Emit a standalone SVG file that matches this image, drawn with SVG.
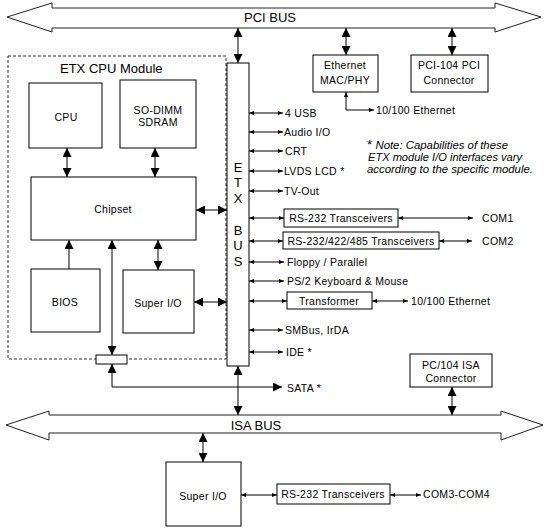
<svg xmlns="http://www.w3.org/2000/svg" width="550" height="531" viewBox="0 0 550 531">
<style>
text{font-family:"Liberation Sans",Arial,sans-serif;fill:#000}
.t{font-size:10.5px;letter-spacing:0.3px}
.c{text-anchor:middle}
.big{font-size:13px}
.note{font-size:10px;font-style:italic}
.box{fill:#fff;stroke:#000;stroke-width:1}
.bus{fill:#fff;stroke:#222;stroke-width:1}
.ln{fill:none;stroke:#000;stroke-width:1}
.d{marker-start:url(#ah);marker-end:url(#ah)}
.s{marker-end:url(#ah)}
.ds{marker-start:url(#sh);marker-end:url(#sh)}
.ss{marker-end:url(#sh)}
</style>
<defs>
<marker id="ah" viewBox="0 0 9 9" markerWidth="9" markerHeight="9" refX="9" refY="4.5" orient="auto-start-reverse" markerUnits="userSpaceOnUse"><path d="M0,0 L9,4.5 L0,9 z" fill="#000"/></marker>
<marker id="sh" viewBox="0 0 5 4" markerWidth="5" markerHeight="4" refX="5" refY="2" orient="auto-start-reverse" markerUnits="userSpaceOnUse"><path d="M0,0 L5,2 L0,4 z" fill="#000"/></marker>
</defs>

<g id="pci-bus">
<polygon class="bus" points="7,17 52,3 52,8 495,8 495,3 541,17 495,32 495,28 52,28 52,32"/>
<text class="big c" x="270" y="22">PCI BUS</text>
</g>
<g id="isa-bus">
<polygon class="bus" points="6,425 49,411 49,415 501,415 501,411 543,425 501,440 501,433 49,433 49,440"/>
<text class="big c" x="256" y="430">ISA BUS</text>
</g>

<g id="etx-module">
<rect x="8" y="56" width="218" height="303" fill="none" stroke="#333" stroke-width="1" stroke-dasharray="3,2"/>
<text class="big" x="60" y="73">ETX CPU Module</text>
</g>

<g id="etx-bus">
<rect class="box" x="227" y="63" width="22" height="303"/>
<text class="big c" x="238" y="172">E</text>
<text class="big c" x="238" y="187">T</text>
<text class="big c" x="238" y="203">X</text>
<text class="big c" x="238" y="235">B</text>
<text class="big c" x="238" y="250">U</text>
<text class="big c" x="238" y="266">S</text>
</g>

<g id="cpu"><rect class="box" x="29" y="83" width="73" height="65"/><text class="t c" x="66" y="121">CPU</text></g>
<g id="sodimm"><rect class="box" x="120" y="80" width="76" height="68"/><text class="t c" x="158" y="114">SO-DIMM</text><text class="t c" x="158" y="126">SDRAM</text></g>
<g id="chipset"><rect class="box" x="31" y="177" width="165" height="63"/><text class="t c" x="113" y="213">Chipset</text></g>
<g id="bios"><rect class="box" x="31" y="269" width="69" height="63"/><text class="t c" x="65" y="306">BIOS</text></g>
<g id="superio"><rect class="box" x="123" y="270" width="71" height="63"/><text class="t c" x="158" y="307">Super I/O</text></g>
<g id="mux"><rect class="box" x="96" y="355" width="31" height="9"/></g>

<g id="ethernet-mac"><rect class="box" x="313" y="55" width="65" height="37"/><text class="t c" x="345" y="69">Ethernet</text><text class="t c" x="345" y="84">MAC/PHY</text></g>
<g id="pci104"><rect class="box" x="411" y="55" width="77" height="37"/><text class="t c" x="449" y="69">PCI-104 PCI</text><text class="t c" x="449" y="84">Connector</text></g>
<g id="pc104-isa"><rect class="box" x="410" y="354" width="82" height="33"/><text class="t c" x="451" y="369">PC/104 ISA</text><text class="t c" x="451" y="382">Connector</text></g>

<g id="rs232-1"><rect class="box" x="284" y="209" width="114" height="18"/><text class="t c" x="341" y="222">RS-232 Transceivers</text></g>
<g id="rs232-2"><rect class="box" x="283" y="232" width="156" height="17"/><text class="t c" x="361" y="245">RS-232/422/485 Transceivers</text></g>
<g id="transformer"><rect class="box" x="287" y="292" width="85" height="17"/><text class="t c" x="329" y="305">Transformer</text></g>

<g id="superio-isa"><rect class="box" x="166" y="462" width="75" height="64"/><text class="t c" x="203" y="500">Super I/O</text></g>
<g id="rs232-3"><rect class="box" x="277" y="484" width="113" height="20"/><text class="t c" x="333" y="498">RS-232 Transceivers</text></g>

<g id="labels">
<text class="t" x="285" y="117">4 USB</text>
<text class="t" x="284" y="136">Audio I/O</text>
<text class="t" x="285" y="155">CRT</text>
<text class="t" x="284" y="175">LVDS LCD *</text>
<text class="t" x="284" y="195">TV-Out</text>
<text class="t" x="482" y="222">COM1</text>
<text class="t" x="482" y="245">COM2</text>
<text class="t" x="287" y="266">Floppy / Parallel</text>
<text class="t" x="287" y="285">PS/2 Keyboard &amp; Mouse</text>
<text class="t" x="411" y="305">10/100 Ethernet</text>
<text class="t" x="285" y="334">SMBus, IrDA</text>
<text class="t" x="286" y="356">IDE *</text>
<text class="t" x="287" y="392">SATA *</text>
<text class="t" x="376" y="114">10/100 Ethernet</text>
<text class="t" x="423" y="498">COM3-COM4</text>
<text class="note" x="367" y="149" textLength="141" lengthAdjust="spacingAndGlyphs"><tspan font-size="12" font-style="normal">*</tspan> Note:  Capabilities of these</text>
<text class="note" x="368" y="161" textLength="154" lengthAdjust="spacingAndGlyphs">ETX module I/O interfaces vary</text>
<text class="note" x="367" y="173" textLength="166" lengthAdjust="spacingAndGlyphs">according to the specific module.</text>
</g>

<g id="connectors">
<line class="ln d" x1="238" y1="28" x2="238" y2="63"/>
<line class="ln d" x1="346" y1="28" x2="346" y2="55"/>
<line class="ln d" x1="452" y1="28" x2="452" y2="55"/>
<polyline class="ln ds" points="346,92 346,110 374,110"/>
<line class="ln d" x1="67" y1="148" x2="67" y2="177"/>
<line class="ln d" x1="155" y1="148" x2="155" y2="177"/>
<line class="ln d" x1="196" y1="210" x2="227" y2="210"/>
<line class="ln s" x1="69" y1="269" x2="69" y2="240"/>
<line class="ln d" x1="112" y1="240" x2="112" y2="355"/>
<line class="ln d" x1="158" y1="240" x2="158" y2="270"/>
<line class="ln d" x1="194" y1="302" x2="227" y2="302"/>
<polyline class="ln d" points="112,364 112,387 282,387"/>
<line class="ln d" x1="238" y1="366" x2="238" y2="415"/>
<line class="ln d" x1="452" y1="387" x2="452" y2="415"/>
<line class="ln d" x1="203" y1="433" x2="203" y2="462"/>
<line class="ln ds" x1="241" y1="495" x2="277" y2="495"/>
<line class="ln ds" x1="390" y1="495" x2="421" y2="495"/>
<line class="ln ds" x1="249" y1="113" x2="283" y2="113"/>
<line class="ln ds" x1="249" y1="132" x2="283" y2="132"/>
<line class="ln ds" x1="249" y1="151" x2="283" y2="151"/>
<line class="ln ds" x1="249" y1="171" x2="283" y2="171"/>
<line class="ln ds" x1="249" y1="191" x2="283" y2="191"/>
<line class="ln ds" x1="249" y1="218" x2="284" y2="218"/>
<line class="ln ds" x1="398" y1="218" x2="473" y2="218"/>
<line class="ln ds" x1="249" y1="241" x2="283" y2="241"/>
<line class="ln ds" x1="439" y1="241" x2="472" y2="241"/>
<line class="ln ds" x1="249" y1="262" x2="284" y2="262"/>
<line class="ln ds" x1="249" y1="281" x2="284" y2="281"/>
<line class="ln ds" x1="249" y1="301" x2="287" y2="301"/>
<line class="ln ds" x1="372" y1="301" x2="408" y2="301"/>
<line class="ln ds" x1="249" y1="330" x2="283" y2="330"/>
<line class="ln ds" x1="249" y1="352" x2="283" y2="352"/>
</g>
</svg>
